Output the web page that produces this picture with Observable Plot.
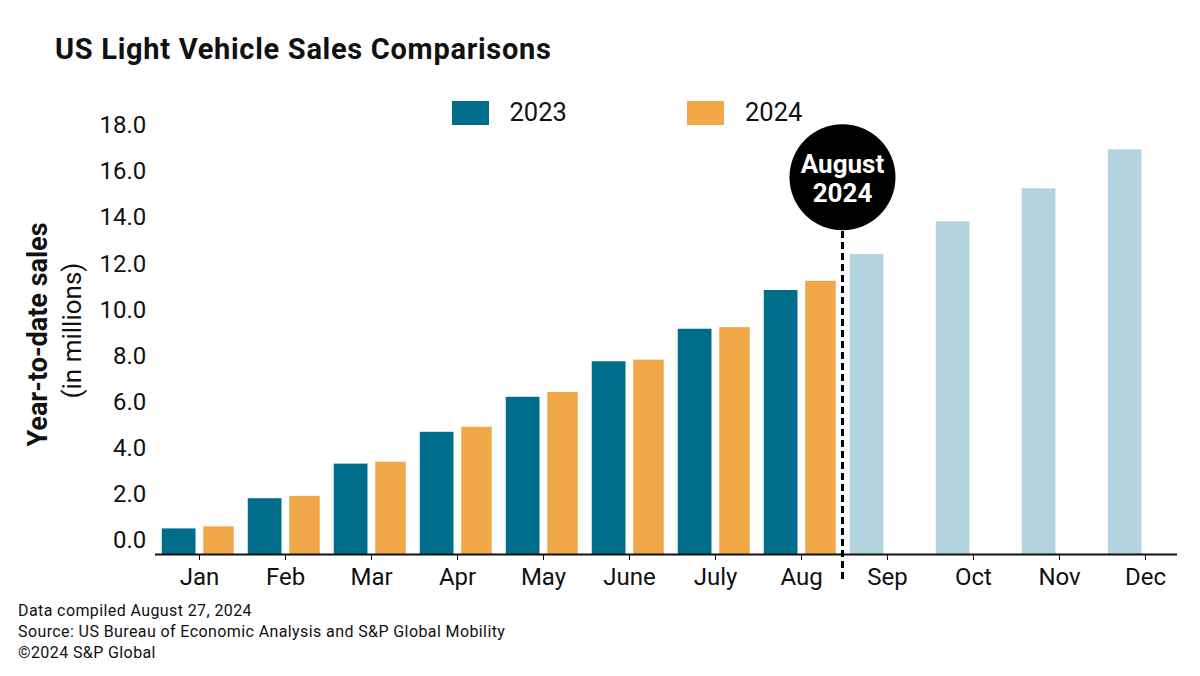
<!DOCTYPE html>
<html>
<head>
<meta charset="utf-8">
<script src="https://cdn.jsdelivr.net/npm/d3@7"></script>
<script src="https://cdn.jsdelivr.net/npm/@observablehq/plot@0.6"></script>
<style>
  html, body { margin: 0; padding: 0; background: #fff; }
  body { width: 1200px; height: 676px; overflow: hidden; position: relative; font-family: Roboto, "Noto Sans", sans-serif; color: #111; }
  #title { position: absolute; left: 55px; top: 35px; font-size: 29px; line-height: 29px; letter-spacing: 0.7px; font-weight: 700; white-space: nowrap; }
  #chart { position: absolute; left: 0; top: 80px; }
  .legend-swatch { position: absolute; top: 101px; width: 37px; height: 24px; }
  .legend-text { position: absolute; top: 100px; font-size: 25.5px; line-height: 25.5px; white-space: nowrap; }
  #footer { position: absolute; left: 18px; top: 600px; font-size: 16px; line-height: 21px; letter-spacing: 0.4px; white-space: nowrap; }
</style>
</head>
<body>
<div id="title"></div>
<div id="legend"></div>
<div id="chart"></div>
<div id="footer"></div>
<script>
// ---- data ----
const months = ["Jan", "Feb", "Mar", "Apr", "May", "June", "July", "Aug", "Sep", "Oct", "Nov", "Dec"];
const sales2023 = [1.11, 2.42, 3.92, 5.30, 6.82, 8.36, 9.77, 11.45, 13.01, 14.43, 15.86, 17.55];
const sales2024 = [1.20, 2.52, 4.00, 5.52, 7.03, 8.43, 9.84, 11.85];
const yTicks = [0, 2, 4, 6, 8, 10, 12, 14, 16, 18];
const seriesNames = ["2023", "2024"];
const reportMonth = "Aug";
const annotationText = "August\n2024";
const titleText = "US Light Vehicle Sales Comparisons";
const yTitle = "Year-to-date sales";
const ySubtitle = "(in millions)";
const footerLines = [
  "Data compiled August 27, 2024",
  "Source: US Bureau of Economic Analysis and S&P Global Mobility",
  "\u00A92024 S&P Global"
];

// ---- styles ----
const colTeal = "#006E8A";
const colOrange = "#F0A848";
const colLight = "#B3D4DE";

// ---- tables ----
const rows2023 = months.map((m, i) => ({month: m, value: sales2023[i], actual: i < sales2024.length}));
const rows2024 = sales2024.map((v, i) => ({month: months[i], value: v}));

// ---- html text ----
document.getElementById("title").textContent = titleText;
document.getElementById("footer").innerHTML = footerLines.map(t => `<div>${t.replace(/&/g, "&amp;")}</div>`).join("");
const legend = document.getElementById("legend");
const legendPos = [{sw: 451.7, tx: 509.5, color: colTeal}, {sw: 686.7, tx: 745, color: colOrange}];
seriesNames.forEach((name, i) => {
  const s = document.createElement("div");
  s.className = "legend-swatch";
  s.style.left = legendPos[i].sw + "px";
  s.style.background = legendPos[i].color;
  legend.appendChild(s);
  const t = document.createElement("div");
  t.className = "legend-text";
  t.style.left = legendPos[i].tx + "px";
  t.textContent = name;
  legend.appendChild(t);
});

// ---- chart ----
const inset2023 = {insetLeft: 5.75, insetRight: 46.5};
const inset2024 = {insetLeft: 47.25, insetRight: 8.25};

const chart = Plot.plot({
  width: 1200,
  height: 520,
  marginTop: 59,
  marginBottom: 46,
  marginLeft: 152.75,
  marginRight: 9.25,
  style: {fontFamily: "Roboto, 'Noto Sans', sans-serif", fontSize: "24px", color: "#111", background: "transparent", overflow: "visible"},
  x: {type: "band", domain: months, padding: 0, axis: null},
  y: {domain: [0, 18], axis: null},
  marks: [
    Plot.barY(rows2023.filter(d => d.actual), {x: "month", y: "value", fill: colTeal, ...inset2023}),
    Plot.barY(rows2023.filter(d => !d.actual), {x: "month", y: "value", fill: colLight, ...inset2023}),
    Plot.barY(rows2024, {x: "month", y: "value", fill: colOrange, ...inset2024}),
    Plot.ruleY([0], {stroke: "#111", strokeWidth: 2, insetLeft: 2.25, insetRight: 13.75}),
    Plot.axisY({ticks: yTicks, tickFormat: d3.format(".1f"), tickSize: 0, tickPadding: 7, dy: -14, label: null, fontSize: 24}),
    Plot.axisX({tickSize: 6, tickPadding: 7, label: null, fontSize: 24}),
    Plot.ruleX([reportMonth], {x: d => d, dx: 41, stroke: "#000", strokeWidth: 3, strokeDasharray: "7,4", insetTop: 92, insetBottom: -26}),
    Plot.dot([reportMonth], {x: d => d, r: 53, fill: "#000", frameAnchor: "top", dx: 41, dy: 37.7}),
    Plot.text([annotationText], {x: () => reportMonth, text: d => d, frameAnchor: "top", lineAnchor: "middle", dx: 41, dy: 38.5, fill: "#fff", fontSize: 26, fontWeight: 700, lineHeight: 1.13}),
    Plot.text([yTitle], {text: d => d, frameAnchor: "left", textAnchor: "middle", lineAnchor: "middle", rotate: -90, dx: -114.75, dy: -12.5, fontSize: 27, fontWeight: 700, fill: "#111"}),
    Plot.text([ySubtitle], {text: d => d, frameAnchor: "left", textAnchor: "middle", lineAnchor: "middle", rotate: -90, dx: -80.75, dy: -16.5, fontSize: 26, fill: "#111"})
  ]
});
document.getElementById("chart").appendChild(chart);
</script>
</body>
</html>
